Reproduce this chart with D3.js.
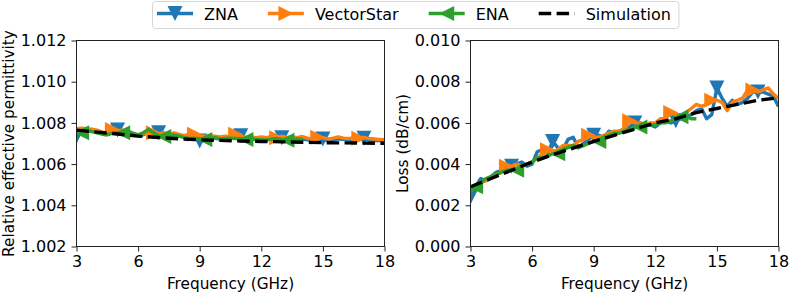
<!DOCTYPE html>
<html>
<head>
<meta charset="utf-8">
<script src="https://cdn.jsdelivr.net/npm/d3@7"></script>
<style>
  body { margin: 0; background: #fff; }
  svg { display: block; font-family: "DejaVu Sans", sans-serif; }
</style>
</head>
<body>
<div id="chart"></div>
<script>

// Frequency grid of the measurements (GHz)
const freq = [3, 3.25, 3.5, 3.75, 4, 4.25, 4.5, 4.75, 5, 5.25, 5.5, 5.75, 6, 6.25, 6.5, 6.75,
  7, 7.25, 7.5, 7.75, 8, 8.25, 8.5, 8.75, 9, 9.25, 9.5, 9.75, 10, 10.25, 10.5, 10.75,
  11, 11.25, 11.5, 11.75, 12, 12.25, 12.5, 12.75, 13, 13.25, 13.5, 13.75, 14, 14.25, 14.5, 14.75,
  15, 15.25, 15.5, 15.75, 16, 16.25, 16.5, 16.75, 17, 17.25, 17.5, 17.75, 18];
const freqSim = [3, 4, 5, 6, 7, 8, 9, 10, 11, 12, 13, 14, 15, 16, 17, 18];

const xTicks = [3, 6, 9, 12, 15, 18];
const permTicks = [1.002, 1.004, 1.006, 1.008, 1.010, 1.012];
const lossTicks = [0, 0.002, 0.004, 0.006, 0.008, 0.010];

// Relative effective permittivity
const permZNA = [1.00735, 1.00762, 1.00768, 1.00765, 1.00762, 1.00752, 1.00745, 1.00752, 1.00765, 1.00758,
  1.00748, 1.00745, 1.00738, 1.00742, 1.00755, 1.00758, 1.00752, 1.00745, 1.00738, 1.00742,
  1.00735, 1.00738, 1.00728, 1.00722, 1.00712, 1.00722, 1.00728, 1.00725, 1.00722, 1.00728,
  1.00725, 1.00728, 1.00738, 1.00728, 1.00722, 1.00726, 1.00724, 1.00722, 1.00726, 1.00730,
  1.00728, 1.00718, 1.00722, 1.00725, 1.00722, 1.00718, 1.00715, 1.00716, 1.00722, 1.00712,
  1.00716, 1.00722, 1.00720, 1.00718, 1.00716, 1.00718, 1.00725, 1.00716, 1.00714, 1.00716, 1.00712];
const permVS = [1.00772, 1.00774, 1.00772, 1.00770, 1.00765, 1.00755, 1.00752, 1.00768, 1.00762, 1.00765,
  1.00756, 1.00748, 1.00742, 1.00748, 1.00752, 1.00752, 1.00748, 1.00752, 1.00745, 1.00752,
  1.00744, 1.00738, 1.00746, 1.00745, 1.00738, 1.00734, 1.00738, 1.00735, 1.00732, 1.00736,
  1.00732, 1.00745, 1.00735, 1.00728, 1.00732, 1.00728, 1.00732, 1.00728, 1.00735, 1.00728,
  1.00735, 1.00730, 1.00732, 1.00728, 1.00734, 1.00726, 1.00722, 1.00730, 1.00728, 1.00722,
  1.00726, 1.00732, 1.00726, 1.00724, 1.00728, 1.00726, 1.00730, 1.00724, 1.00722, 1.00720, 1.00718];
const permENA = [1.00750, 1.00752, 1.00762, 1.00758, 1.00752, 1.00745, 1.00742, 1.00750, 1.00752, 1.00752,
  1.00760, 1.00750, 1.00742, 1.00752, 1.00768, 1.00752, 1.00738, 1.00734, 1.00738, 1.00742,
  1.00736, 1.00728, 1.00725, 1.00726, 1.00722, 1.00720, 1.00722, 1.00728, 1.00722, 1.00724,
  1.00726, 1.00724, 1.00722, 1.00720, 1.00722, 1.00720, 1.00718, 1.00716, 1.00722, 1.00724,
  1.00720, 1.00716, 1.00718, 1.00722, 1.00720];
const permSim = [1.00765, 1.00755, 1.00746, 1.00736, 1.00729, 1.00723, 1.00718, 1.00715,
  1.00712, 1.00710, 1.00708, 1.00706, 1.00704, 1.00703, 1.00702, 1.00701];

// Loss (dB/cm)
const lossZNA = [0.0024, 0.0029, 0.0033, 0.0032, 0.0034, 0.0036, 0.0037, 0.0036, 0.0039, 0.0040,
  0.0041, 0.0039, 0.0040, 0.0046, 0.0047, 0.0045, 0.0051, 0.0048, 0.0047, 0.0052,
  0.0053, 0.0048, 0.0050, 0.0052, 0.0054, 0.0054, 0.0053, 0.0056, 0.0055, 0.0056,
  0.0057, 0.0058, 0.0060, 0.0060, 0.0059, 0.0059, 0.0058, 0.0060, 0.0061, 0.0060,
  0.0061, 0.0062, 0.0063, 0.0064, 0.0066, 0.0067, 0.0062, 0.0064, 0.0077, 0.0072,
  0.0068, 0.0071, 0.0069, 0.0070, 0.0072, 0.0075, 0.0075, 0.0075, 0.0074, 0.0073, 0.0068];
const lossVS = [0.0027, 0.0029, 0.0031, 0.0032, 0.0034, 0.0035, 0.0036, 0.0039, 0.0039, 0.0040,
  0.0039, 0.0040, 0.0041, 0.0043, 0.0045, 0.0047, 0.0046, 0.0047, 0.0049, 0.0049,
  0.0049, 0.0051, 0.0052, 0.0054, 0.0053, 0.0053, 0.0054, 0.0055, 0.0056, 0.0056,
  0.0057, 0.0061, 0.0060, 0.0060, 0.0059, 0.0060, 0.0060, 0.0062, 0.0062, 0.0065,
  0.0064, 0.0063, 0.0065, 0.0067, 0.0069, 0.0068, 0.0069, 0.0071, 0.0071, 0.0070,
  0.0066, 0.0070, 0.0071, 0.0072, 0.0076, 0.0076, 0.0075, 0.0076, 0.0077, 0.0074, 0.0072];
const lossENA = [0.0026, 0.0029, 0.0031, 0.0033, 0.0034, 0.0035, 0.0036, 0.0037, 0.0037, 0.0037,
  0.0039, 0.0040, 0.0041, 0.0043, 0.0043, 0.0044, 0.0045, 0.0045, 0.0047, 0.0048,
  0.0049, 0.0048, 0.0049, 0.0050, 0.0051, 0.0051, 0.0053, 0.0054, 0.0055, 0.0055,
  0.0056, 0.0057, 0.0058, 0.0058, 0.0059, 0.0059, 0.0059, 0.0060, 0.0060, 0.0061,
  0.0062, 0.0063, 0.0063, 0.0062, 0.0062];
const lossSim = [0.0029, 0.0033, 0.0037, 0.0041, 0.00445, 0.00478, 0.0051, 0.0054,
  0.0057, 0.0060, 0.0062, 0.0065, 0.0067, 0.0069, 0.0071, 0.00722];

const seriesNames = ["ZNA", "VectorStar", "ENA", "Simulation"];


// Styles
// ======

const COLORS = { ZNA: "#1f77b4", VectorStar: "#ff7f0e", ENA: "#2ca02c", Simulation: "#000" };
const MARKER = { ZNA: "down", VectorStar: "right", ENA: "left", Simulation: null };
const MARK_OFFSET = { ZNA: 0, VectorStar: 7, ENA: 1 };   // every 8th point (2 GHz)
const MARK_R = 7.5;
const LW = 3.4;
const DASH = '12.5,5.4';
const TICK_FONT = 16;
const LABEL_FONT = 15.3;

const W = 789, H = 293;
const svg = d3.select('#chart').append('svg')
  .attr('width', W)
  .attr('height', H);

function markerPath(kind, r) {
  if (kind === "down") return `M${-r},${-r}L${r},${-r}L0,${r}Z`;
  if (kind === "right") return `M${-r},${-r}L${r},0L${-r},${r}Z`;
  if (kind === "left") return `M${r},${-r}L${-r},0L${r},${r}Z`;
  return "";
}

function panel(id, box, yDomain, yTicks, yLabel, data) {
  const x = d3.scaleLinear().domain([3, 18]).range([box.x0, box.x1]);
  const y = d3.scaleLinear().domain(yDomain).range([box.y1, box.y0]);

  svg.append('clipPath').attr('id', id)
    .append('rect')
      .attr('x', box.x0).attr('y', box.y0)
      .attr('width', box.x1 - box.x0).attr('height', box.y1 - box.y0);

  const plot = svg.append('g').attr('clip-path', `url(#${id})`);

  data.forEach((s) => {
    const pts = s.values.map((v, i) => [s.freq[i], v]);
    const line = d3.line().x(d => x(d[0])).y(d => y(d[1]));
    const path = plot.append('path')
      .attr('d', line(pts))
      .attr('fill', 'none')
      .attr('stroke', COLORS[s.name])
      .attr('stroke-width', LW)
      .attr('stroke-linejoin', 'round');
    if (s.name === "Simulation") {
      path.attr('stroke-dasharray', DASH);
      return;
    }
    plot.append('g')
      .selectAll('path').data(pts.filter((d, i) => i % 8 === MARK_OFFSET[s.name]))
      .enter()
      .append('path')
        .attr('d', markerPath(MARKER[s.name], MARK_R))
        .attr('transform', d => `translate(${x(d[0])},${y(d[1])})`)
        .attr('fill', COLORS[s.name]);
  });

  // frame
  svg.append('rect')
    .attr('x', box.x0).attr('y', box.y0)
    .attr('width', box.x1 - box.x0).attr('height', box.y1 - box.y0)
    .attr('fill', 'none').attr('stroke', '#222').attr('stroke-width', 1);

  const xAxis = svg.append('g')
    .attr('transform', `translate(0,${box.y1})`)
    .call(d3.axisBottom(x).tickValues(xTicks).tickSize(5).tickPadding(4.5).tickFormat(d3.format('d')));
  const yAxis = svg.append('g')
    .attr('transform', `translate(${box.x0},0)`)
    .call(d3.axisLeft(y).tickValues(yTicks).tickSize(5).tickPadding(5).tickFormat(d3.format('.3f')));

  [xAxis, yAxis].forEach((a) => {
    a.select('.domain').remove();
    a.selectAll('text').attr('font-size', TICK_FONT).attr('font-family', '"DejaVu Sans"').attr('fill', '#000');
    a.selectAll('line').attr('stroke', '#222');
  });

  svg.append('text')
    .attr('x', (box.x0 + box.x1) / 2).attr('y', 289)
    .attr('text-anchor', 'middle')
    .attr('font-size', LABEL_FONT)
    .text("Frequency (GHz)");

  svg.append('text')
    .attr('transform', `translate(${box.x0 - 63},${(box.y0 + box.y1) / 2}) rotate(-90)`)
    .attr('text-anchor', 'middle')
    .attr('font-size', LABEL_FONT)
    .text(yLabel);
}

panel('clipL', { x0: 76.5, x1: 384.5, y0: 40.5, y1: 246.5 }, [1.002, 1.012], permTicks,
  "Relative effective permittivity", [
    { name: "ZNA", freq: freq, values: permZNA },
    { name: "VectorStar", freq: freq, values: permVS },
    { name: "ENA", freq: freq, values: permENA },
    { name: "Simulation", freq: freqSim, values: permSim },
  ]);

panel('clipR', { x0: 470.5, x1: 778.5, y0: 40.5, y1: 246.5 }, [0, 0.010], lossTicks,
  "Loss (dB/cm)", [
    { name: "ZNA", freq: freq, values: lossZNA },
    { name: "VectorStar", freq: freq, values: lossVS },
    { name: "ENA", freq: freq, values: lossENA },
    { name: "Simulation", freq: freqSim, values: lossSim },
  ]);


// Legend
// ------

const legend = svg.append('g');
const legendBox = legend.append('rect')
  .attr('y', 1.5).attr('height', 27).attr('rx', 3)
  .attr('fill', '#fff').attr('fill-opacity', 0.8)
  .attr('stroke', '#d6d6d6').attr('stroke-width', 1);

let lx = 157;
seriesNames.forEach((name) => {
  const item = legend.append('g');
  item.append('line')
    .attr('x1', lx).attr('x2', lx + 36).attr('y1', 13.5).attr('y2', 13.5)
    .attr('stroke', COLORS[name]).attr('stroke-width', LW)
    .attr('stroke-dasharray', name === "Simulation" ? DASH : null);
  if (MARKER[name]) {
    item.append('path')
      .attr('d', markerPath(MARKER[name], MARK_R))
      .attr('transform', `translate(${lx + 18},13.5)`)
      .attr('fill', COLORS[name]);
  }
  const t = item.append('text')
    .attr('x', lx + 47).attr('y', 19.5)
    .attr('font-size', TICK_FONT)
    .text(name);
  lx = lx + 47 + t.node().getComputedTextLength() + 30;
});
legendBox.attr('x', 152.5).attr('width', lx - 30 + 8 - 152.5);

</script>
</body>
</html>
